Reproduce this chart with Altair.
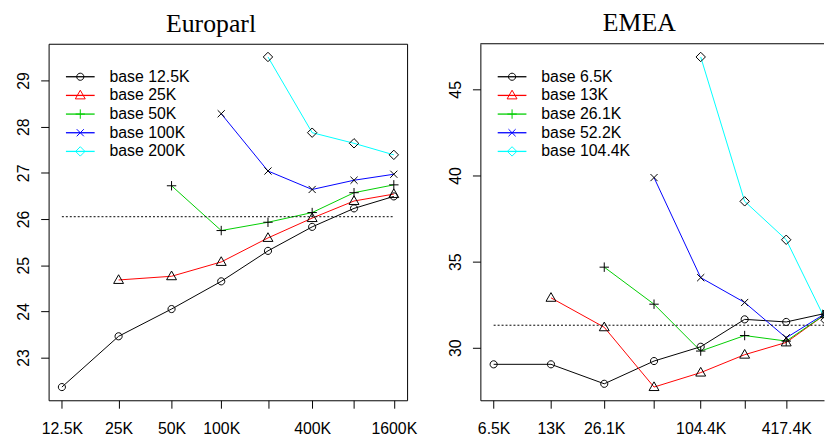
import math
import altair as alt
import pandas as pd

# ---------------- Europarl ----------------
ep_sizes = [12500, 25000, 50000, 100000, 200000, 400000, 800000, 1600000]
ep_tick_labels = ["12.5K", "25K", "50K", "100K", "", "400K", "", "1600K"]
ep_series = ["base 12.5K", "base 25K", "base 50K", "base 100K", "base 200K"]
ep_base_12_5k = [22.36, 23.46, 24.05, 24.65, 25.31, 25.83, 26.23, 26.49]
ep_base_25k = [24.68, 24.76, 25.07, 25.59, 26.02, 26.39, 26.54]
ep_base_50k = [26.72, 25.75, 25.93, 26.14, 26.57, 26.74]
ep_base_100k = [28.28, 27.04, 26.64, 26.84, 26.97]
ep_base_200k = [29.51, 27.87, 27.64, 27.39]
ep_reference = 26.05
ep_yticks = [23, 24, 25, 26, 27, 28, 29]

# ---------------- EMEA ----------------
em_sizes = [6522, 13044, 26088, 52175, 104350, 208700, 417400, 834800]
em_tick_labels = ["6.5K", "13K", "26.1K", "", "104.4K", "", "417.4K", ""]
em_series = ["base 6.5K", "base 13K", "base 26.1K", "base 52.2K", "base 104.4K"]
em_base_6_5k = [29.04, 29.04, 27.91, 29.23, 30.06, 31.65, 31.50, 32.00]
em_base_13k = [32.90, 31.19, 27.72, 28.56, 29.60, 30.31, 31.95]
em_base_26_1k = [34.68, 32.53, 29.81, 30.71, 30.39, 31.95]
em_base_52_2k = [39.88, 34.07, 32.63, 30.58, 32.00]
em_base_104_4k = [46.88, 38.50, 36.27, 31.60]
em_reference = 31.31
em_yticks = [30, 35, 40, 45]

series_colors = ["#000000", "#FF0000", "#00CD00", "#0000FF", "#00FFFF"]
series_shapes = [
    "M-0.72,0A0.72,0.72 0 1,0 0.72,0A0.72,0.72 0 1,0 -0.72,0Z",  # circle
    "M0,-1.05L1,0.7L-1,0.7Z",                                      # triangle
    "M-0.95,0L0.95,0M0,-0.95L0,0.95",                              # plus
    "M-0.72,-0.72L0.72,0.72M-0.72,0.72L0.72,-0.72",                # x
    "M0,-0.95L0.95,0L0,0.95L-0.95,0Z",                             # diamond
]

FULL_W = 362
H = 360
FONT = "Liberation Sans"


def panel(title, sizes, tick_labels, series, values, ref, yticks, width, clipped, title_dx):
    rows = []
    for k, (name, vals) in enumerate(zip(series, values)):
        for j, v in enumerate(vals):
            rows.append({"series": name, "size": sizes[k + j], "value": v})
    df = pd.DataFrame(rows)

    lo = math.log(math.log(sizes[0]))
    hi = math.log(math.log(sizes[-1]))
    ext = 0.04 * (hi - lo)
    d0, d1 = lo - ext, hi + ext
    d1 = d0 + (d1 - d0) * width / FULL_W
    xdom = [math.exp(d0), math.exp(d1)]

    allv = [v for vals in values for v in vals]
    ymin, ymax = min(allv), max(allv)
    yext = 0.04 * (ymax - ymin)
    ydom = [ymin - yext, ymax + yext]

    tick_vals = [math.log(s) for s in sizes]
    expr = "''"
    for tv, lab in zip(reversed(tick_vals), reversed(tick_labels)):
        expr = f"abs(datum.value - {tv:.6f}) < 0.001 ? '{lab}' : ({expr})"

    xaxis = alt.Axis(values=tick_vals, labelExpr=expr, title=None, grid=False,
                     tickSize=8, labelPadding=13, labelFont=FONT, labelFontSize=16,
                     labelColor="black", tickColor="black", domain=clipped,
                     domainColor="black", labelBaseline="top", labelOverlap=False,
                     labelFlush=False)
    yaxis = alt.Axis(values=yticks, title=None, grid=False, tickSize=8,
                     labelPadding=12, labelFont=FONT, labelFontSize=16,
                     labelColor="black", tickColor="black", domain=clipped,
                     domainColor="black", labelAngle=270, labelAlign="center",
                     labelBaseline="alphabetic")
    xs = alt.Scale(type="log", domain=xdom, nice=False, zero=False)
    ys = alt.Scale(domain=ydom, nice=False, zero=False)
    cs = alt.Scale(domain=series, range=series_colors)
    ss = alt.Scale(domain=series, range=series_shapes)

    base = alt.Chart(df).transform_calculate(lx="log(datum.size)")
    X = alt.X("lx:Q", scale=xs, axis=xaxis)
    Y = alt.Y("value:Q", scale=ys, axis=yaxis)

    lines = base.mark_line(strokeWidth=1, clip=True).encode(
        x=X, y=Y, color=alt.Color("series:N", scale=cs, legend=None),
        order=alt.Order("lx:Q"))
    points = base.mark_point(filled=False, size=100, strokeWidth=1, color="black",
                             clip=True, opacity=1).encode(
        x=X, y=Y, shape=alt.Shape("series:N", scale=ss, legend=None))

    refdf = pd.DataFrame({"x0": [sizes[0]], "x1": [sizes[-1]], "value": [ref]})
    refline = alt.Chart(refdf).transform_calculate(
        lx="log(datum.x0)", l1="log(datum.x1)").mark_rule(
        strokeDash=[2, 2], color="black", strokeWidth=1, clip=True).encode(
        x=X, x2="l1:Q", y=Y)

    legdf = pd.DataFrame({"series": series, "row": list(range(len(series)))})
    leg = alt.Chart(legdf).transform_calculate(ly="33.3 + datum.row * 18.85")
    LY = alt.Y("ly:Q", scale=None, axis=None)
    leg_rule = leg.mark_rule(strokeWidth=1.3).encode(
        x=alt.value(17.5), x2=alt.value(46.5), y=LY,
        color=alt.Color("series:N", scale=cs, legend=None))
    leg_pt = leg.mark_point(filled=False, size=100, strokeWidth=1, opacity=1).encode(
        x=alt.value(32), y=LY,
        color=alt.Color("series:N", scale=cs, legend=None),
        shape=alt.Shape("series:N", scale=ss, legend=None))
    leg_txt = leg.mark_text(align="left", baseline="middle", font=FONT,
                            fontSize=16, color="black").encode(
        x=alt.value(61.5), y=LY, text="series:N")

    layers = [lines, refline, points, leg_rule, leg_pt, leg_txt]
    if clipped:
        top = alt.Chart(pd.DataFrame({"a": [0]})).mark_rule(
            color="black", strokeWidth=1).encode(
            x=alt.value(0), x2=alt.value(width), y=alt.value(0))
        layers.append(top)
        view = alt.ViewBackground(stroke="transparent")
    else:
        view = alt.ViewBackground(stroke="black", strokeWidth=1)

    return alt.layer(*layers).properties(
        width=width, height=H, view=view,
        title=alt.TitleParams(text=title, font="Liberation Serif", fontSize=26,
                              fontWeight="normal", anchor="middle", frame="group",
                              baseline="alphabetic", offset=-14, dx=title_dx,
                              color="black"))


left = panel("Europarl", ep_sizes, ep_tick_labels, ep_series,
             [ep_base_12_5k, ep_base_25k, ep_base_50k, ep_base_100k, ep_base_200k],
             ep_reference, ep_yticks, FULL_W, False, -17)
right = panel("EMEA", em_sizes, em_tick_labels, em_series,
              [em_base_6_5k, em_base_13k, em_base_26_1k, em_base_52_2k, em_base_104_4k],
              em_reference, em_yticks, 347, True, -13)

chart = alt.hconcat(left, right, spacing=74, bounds="flush").properties(
    padding={"left": 7, "top": 0, "right": 0, "bottom": 0},
    background="white")

chart.save("out.html", embed_options={"renderer": "svg", "actions": False})
